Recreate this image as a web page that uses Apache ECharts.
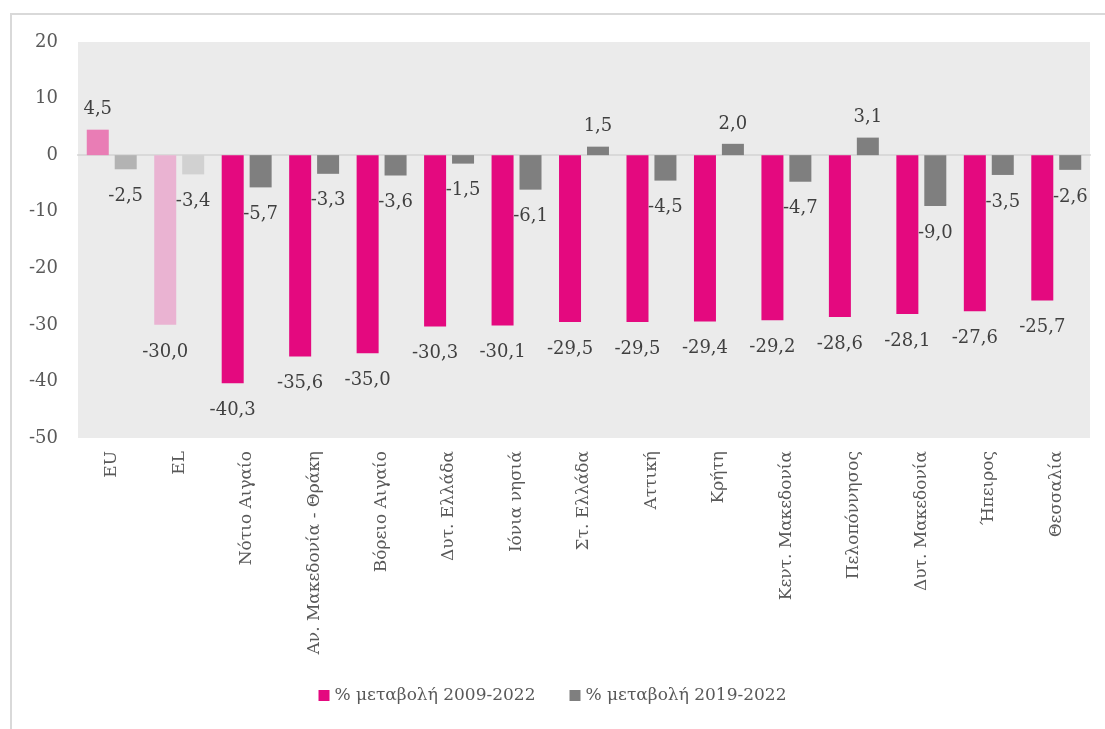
<!DOCTYPE html>
<html>
<head>
<meta charset="utf-8">
<script src="https://cdn.jsdelivr.net/npm/echarts@6/dist/echarts.min.js"></script>
<style>
  html, body { margin: 0; padding: 0; background: #ffffff; }
  #chart { width: 1105px; height: 729px; }
</style>
</head>
<body>
<div id="chart"></div>
<script>
// Regions and the two periods of change (%)
const regions = ['EU', 'EL', 'Νότιο Αιγαίο', 'Αν. Μακεδονία - Θράκη', 'Βόρειο Αιγαίο', 'Δυτ. Ελλάδα',
  'Ιόνια νησιά', 'Στ. Ελλάδα', 'Αττική', 'Κρήτη', 'Κεντ. Μακεδονία', 'Πελοπόννησος',
  'Δυτ. Μακεδονία', 'Ήπειρος', 'Θεσσαλία'];
const change2009 = [4.5, -30.0, -40.3, -35.6, -35.0, -30.3, -30.1, -29.5, -29.5, -29.4, -29.2, -28.6, -28.1, -27.6, -25.7];
const change2019 = [-2.5, -3.4, -5.7, -3.3, -3.6, -1.5, -6.1, 1.5, -4.5, 2.0, -4.7, 3.1, -9.0, -3.5, -2.6];
const seriesNames = ['% μεταβολή 2009-2022', '% μεταβολή 2019-2022'];
const yTicks = { min: -50, max: 20, step: 10 };

// Colours: EU and EL are shown in lighter tones of each series
const pinkMain = '#e4097f', greyMain = '#7f7f7f';
const pinkShade = { EU: '#e97db5', EL: '#eab3d2' };
const greyShade = { EU: '#b3b3b3', EL: '#d1d1d1' };

const FONT = '"DejaVu Serif", serif';

function fmt(v) { return v.toFixed(1).replace('.', ','); }

// Value labels sit above positive bars and below negative ones
function buildData(values, base, shades) {
  return values.map((v, i) => ({
    value: v,
    itemStyle: { color: shades[regions[i]] || base },
    label: v >= 0 ? { position: 'top', distance: 11 } : { position: 'bottom', distance: 18 }
  }));
}

const chart = echarts.init(document.getElementById('chart'));
chart.setOption({
  animation: false,
  textStyle: { fontFamily: FONT },
  graphic: [{
    type: 'rect',
    shape: { x: 11, y: 14, width: 1110, height: 730 },
    style: { fill: 'none', stroke: '#d9d9d9', lineWidth: 2 },
    silent: true, z: -10
  }],
  grid: {
    left: 78, right: 15, top: 42, bottom: 291,
    show: true, backgroundColor: '#ebebeb', borderWidth: 0
  },
  legend: {
    bottom: 20, left: 'center',
    icon: 'rect', itemWidth: 11, itemHeight: 11, itemGap: 34,
    textStyle: { fontFamily: FONT, fontSize: 17, color: '#595959' },
    data: seriesNames
  },
  xAxis: {
    type: 'category',
    data: regions,
    axisLine: { onZero: true, lineStyle: { color: '#d9d9d9', width: 2 } },
    axisTick: { show: false },
    axisLabel: {
      interval: 0, rotate: 90, margin: 13,
      fontFamily: FONT, fontSize: 17, color: '#595959'
    }
  },
  yAxis: {
    type: 'value',
    min: yTicks.min, max: yTicks.max, interval: yTicks.step,
    axisLine: { show: false },
    axisTick: { show: false },
    splitLine: { show: false },
    axisLabel: { margin: 20, fontFamily: FONT, fontSize: 18, color: '#595959' }
  },
  series: [
    {
      name: seriesNames[0], type: 'bar',
      barWidth: 22, barGap: '27%',
      itemStyle: { color: pinkMain },
      label: { show: true, fontFamily: FONT, fontSize: 18, color: '#404040',
        formatter: p => fmt(p.value) },
      data: buildData(change2009, pinkMain, pinkShade)
    },
    {
      name: seriesNames[1], type: 'bar',
      barWidth: 22,
      itemStyle: { color: greyMain },
      label: { show: true, fontFamily: FONT, fontSize: 18, color: '#404040',
        formatter: p => fmt(p.value) },
      data: buildData(change2019, greyMain, greyShade)
    }
  ]
});
</script>
</body>
</html>
